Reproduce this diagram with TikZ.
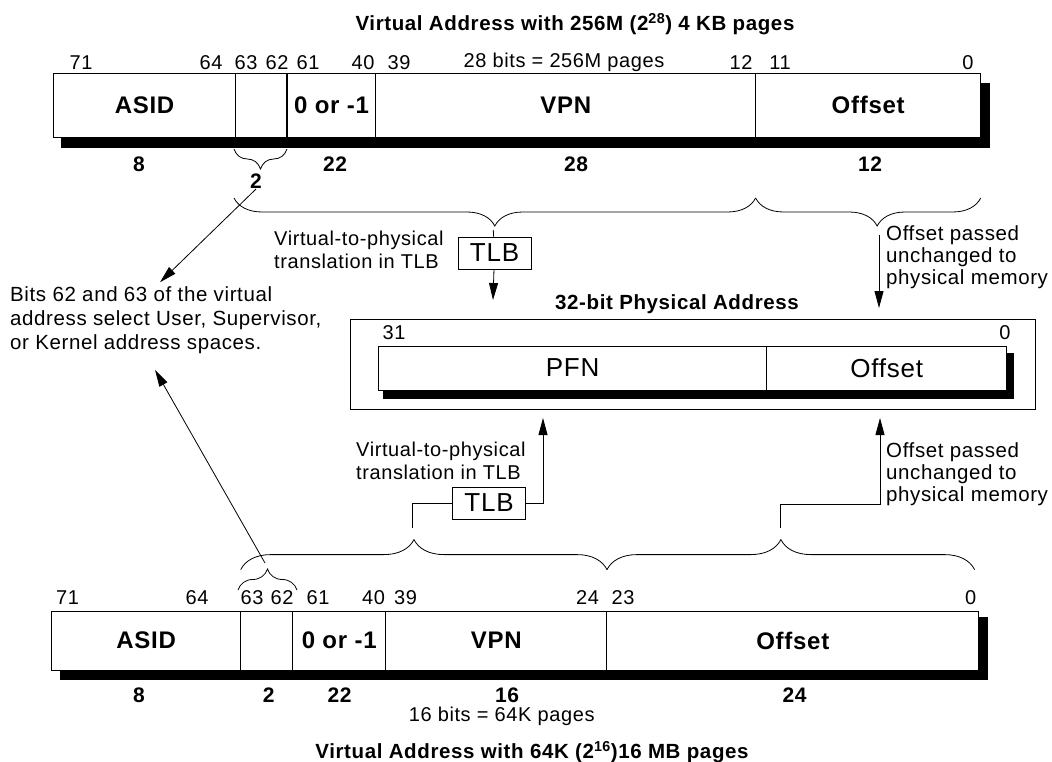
\documentclass[tikz,border=0pt]{standalone}
\usepackage{fontspec}
\setmainfont{Liberation Sans}[LetterSpace=3]
\usetikzlibrary{arrows.meta,decorations.pathreplacing,calc}

\begin{document}
\begin{tikzpicture}[x=1pt, y=-1pt,
  fld/.style={rectangle, draw, fill=white, line width=0.8pt, inner sep=0pt, font=\fontsize{24}{28}\selectfont\bfseries},
  pfld/.style={rectangle, draw, fill=white, line width=0.8pt, inner sep=0pt, minimum height=44pt, font=\fontsize{26}{30}\selectfont},
  bitno/.style={inner sep=0pt, font=\fontsize{20}{24}\selectfont},
  bitcnt/.style={inner sep=0pt, font=\fontsize{21}{25}\selectfont\bfseries},
  ttl/.style={inner sep=0pt, font=\fontsize{20.5}{24}\selectfont\bfseries},
  note/.style={inner sep=0pt, align=left, font=\fontsize{20}{23}\selectfont},
  tlb/.style={rectangle, draw, fill=white, line width=0.8pt, minimum width=73pt, minimum height=32pt, inner sep=0pt, font=\fontsize{26}{30}\selectfont},
  arr/.style={-{Triangle[length=17pt, width=9pt]}, line width=0.8pt},
  brc/.style={decorate, decoration={brace, amplitude=#1}, line width=0.8pt},
  shade/.style={fill=black},
]
\useasboundingbox (0,0) rectangle (1052,762);

% === VIRTUAL ADDRESS, 4 KB PAGES ===
\node[ttl] (ttlA) at (575,24) {Virtual Address with 256M (2\textsuperscript{28}) 4 KB pages};
\fill[shade] (61,83) rectangle (990,148);
\node[fld, minimum width=182pt, minimum height=64pt] (asidA) at (144.5,105) {ASID};
\node[fld, minimum width=51pt, minimum height=64pt] (selA) at (261.3,105) {};
\node[fld, minimum width=89pt, minimum height=64pt] (zeroA) at (331.5,105) {0 or -1};
\node[fld, minimum width=380pt, minimum height=64pt] (vpnA) at (565.8,105) {VPN};
\node[fld, minimum width=225pt, minimum height=64pt] (offA) at (868.2,105) {Offset};

\foreach \n/\x in {71/81, 64/211, 63/246, 62/277, 61/308, 40/363, 39/399, 12/741, 11/780, 0/968}
  \node[bitno] (bA\n) at (\x,62.5) {\n};
\node[bitno] (pagesA) at (564,62.5) {28 bits = 256M pages};

\foreach \n/\x in {8/139, 22/335, 28/576, 12/870}
  \node[bitcnt] (cA\n) at (\x,164) {\n};
\draw[brc=20pt] (287,149) -- (234,149);
\node[bitcnt] (twoA) at (256,181.5) {2};

\draw[brc=28pt] (755.6,198) -- (234,198);
\draw[brc=28pt, decoration={aspect=0.46}] (980.7,198) -- (755.6,198);
\coordinate (vtipA) at (493,225);
\coordinate (otipA) at (879,223);

% === TRANSLATION, 4 KB PAGES ===
\node[tlb] (tlbA) at (494.5,253) {TLB};
\node[note, anchor=west] (xlatA) at (274,250) {Virtual-to-physical\\translation in TLB};
\node[note, anchor=west, font=\fontsize{20.5}{22}\selectfont] (passA) at (886,257) {Offset passed\\unchanged to\\physical memory};
\coordinate (pinA) at (493,300);
\coordinate (pinC) at (879,308);
\draw[line width=0.8pt, shorten <=5pt] (vtipA) -- (tlbA);
\draw[arr] (tlbA) -- (pinA);
\draw[arr, shorten <=12pt] (otipA) -- (pinC);

% === PHYSICAL ADDRESS ===
\node[ttl] (ttlP) at (677,304.5) {32-bit Physical Address};
\node[rectangle, draw, line width=0.8pt, minimum width=685pt, minimum height=90pt] (physbox) at (693,364) {};
\fill[shade] (383,353) rectangle (1013.5,398.5);
\node[pfld, minimum width=388pt] (pfn) at (572.6,368) {PFN};
\node[pfld, minimum width=240pt] (offP) at (886.8,368) {Offset};
\node[bitno] (bP31) at (394,333) {31};
\node[bitno] (bP0) at (1005,333) {0};

% === NOTE ON BITS 62/63 ===
\node[note, anchor=west, font=\fontsize{20.5}{24}\selectfont] (selnote) at (10,320) {Bits 62 and 63 of the virtual\\address select User, Supervisor,\\or Kernel address spaces.};
\draw[arr] (twoA.south) -- ($(selnote.north west)+(150,-4)$);
\coordinate (stipB) at (265,563);
\draw[arr] (stipB) -- ($(selnote.south west)+(145,16)$);

% === TRANSLATION, 16 MB PAGES ===
\node[tlb] (tlbB) at (489,503) {TLB};
\node[note, anchor=west] (xlatB) at (356,461) {Virtual-to-physical\\translation in TLB};
\node[note, anchor=west, font=\fontsize{20.5}{22}\selectfont] (passB) at (886,474) {Offset passed\\unchanged to\\physical memory};
\coordinate (pinB) at (543,418);
\coordinate (pinD) at (880,418);
\coordinate (btipA) at (412,528);
\coordinate (btipB) at (780,528);
\draw[line width=0.8pt] (btipA) |- (tlbB);
\draw[arr] (tlbB) -| (pinB);
\draw[arr] (btipB) -- ++(0,-24) -| (pinD);

\draw[brc=30pt, decoration={aspect=0.473}] (240.7,569.6) -- (607,569.6);
\draw[brc=30pt, decoration={aspect=0.473}] (607,569.6) -- (974.6,569.6);
\draw[brc=21pt] (238,590) -- (297,590);

% === VIRTUAL ADDRESS, 16 MB PAGES ===
\foreach \n/\x in {71/67.6, 64/197, 63/252, 62/282, 61/318, 40/373.5, 39/405.6, 24/587.6, 23/623, 0/970.6}
  \node[bitno] (bB\n) at (\x,598) {\n};
\fill[shade] (59.5,617) rectangle (987.5,680);
\node[fld, minimum width=189pt, minimum height=59pt] (asidB) at (146.2,640.5) {ASID};
\node[fld, minimum width=52pt, minimum height=59pt] (selB) at (266.7,640.5) {};
\node[fld, minimum width=93pt, minimum height=59pt] (zeroB) at (339.2,640.5) {0 or -1};
\node[fld, minimum width=221pt, minimum height=59pt] (vpnB) at (496.3,640.5) {VPN};
\node[fld, minimum width=372pt, minimum height=59pt] (offB) at (792.8,640.5) {Offset};

\foreach \n/\x in {8/139, 2/268.7, 22/339.7, 16/507, 24/794.5}
  \node[bitcnt] (cB\n) at (\x,695.6) {\n};
\node[bitno] (pagesB) at (501.7,716.6) {16 bits = 64K pages};
\node[ttl] (ttlB) at (532,752) {Virtual Address with 64K (2\textsuperscript{16})16 MB pages};
\end{tikzpicture}
\end{document}
